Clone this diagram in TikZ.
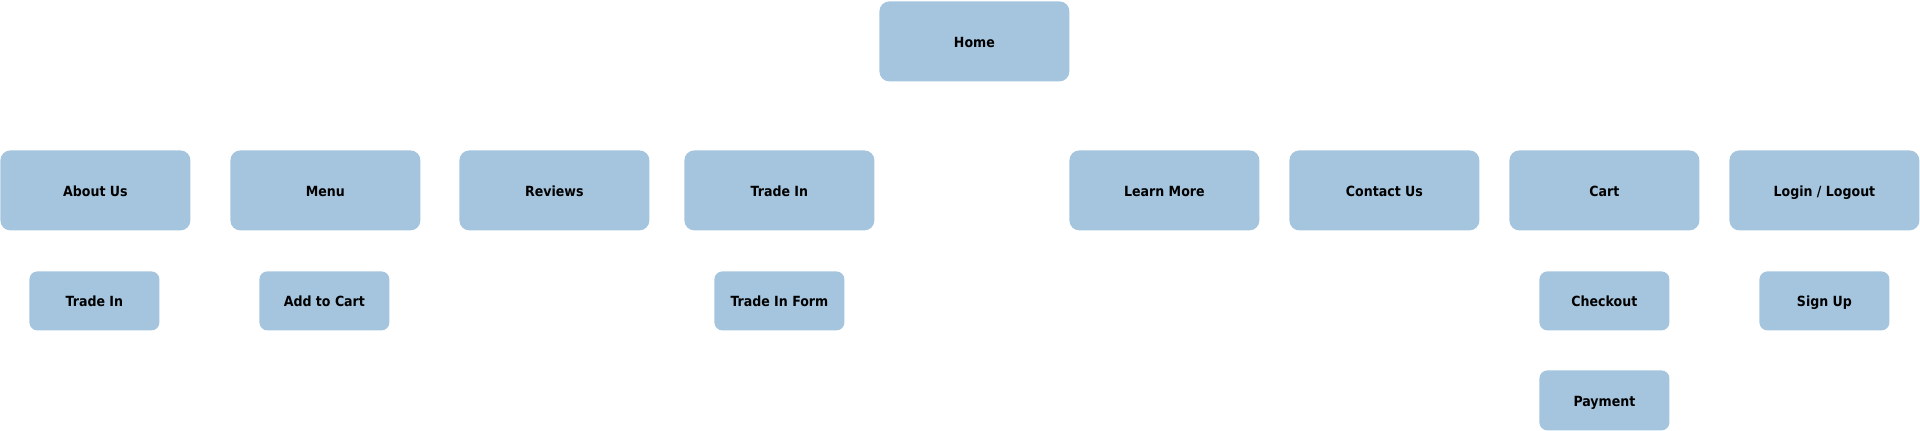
\documentclass[tikz,border=0pt]{standalone}
\usepackage{fontspec}
\setmainfont{DejaVu Sans Condensed}[BoldFont={DejaVu Sans Condensed Bold}]
\definecolor{boxfill}{HTML}{A5C5DE}
\begin{document}
\begin{tikzpicture}[x=0.5pt,y=-0.5pt,
  boxtext/.style={font=\fontsize{7}{8}\selectfont\bfseries, text height=5.6pt, text depth=0pt},
  bigbox/.style={boxtext, fill=boxfill, rounded corners=5pt, inner sep=0pt, anchor=north west,
    minimum width=95pt, minimum height=40pt},
  smallbox/.style={boxtext, fill=boxfill, rounded corners=4pt, inner sep=0pt, anchor=north west,
    minimum width=65pt, minimum height=29.5pt}]
\useasboundingbox (0,0) rectangle (1920,430);
\node[bigbox] (home) at (879,1) {Home};
\node[bigbox] (about) at (0,150) {About Us};
\node[bigbox] (menu) at (230,150) {Menu};
\node[bigbox] (reviews) at (459,150) {Reviews};
\node[bigbox] (trade) at (684,150) {Trade In};
\node[bigbox] (learn) at (1069,150) {Learn More};
\node[bigbox] (contact) at (1289,150) {Contact Us};
\node[bigbox] (cart) at (1509,150) {Cart};
\node[bigbox] (login) at (1729,150) {Login / Logout};
\node[smallbox] (abouttrade) at (29,271) {Trade In};
\node[smallbox] (addcart) at (259,271) {Add to Cart};
\node[smallbox] (tradeform) at (714,271) {Trade In Form};
\node[smallbox] (checkout) at (1539,271) {Checkout};
\node[smallbox] (signup) at (1759,271) {Sign Up};
\node[smallbox, minimum height=30pt] (payment) at (1539,370) {Payment};
\end{tikzpicture}
\end{document}
